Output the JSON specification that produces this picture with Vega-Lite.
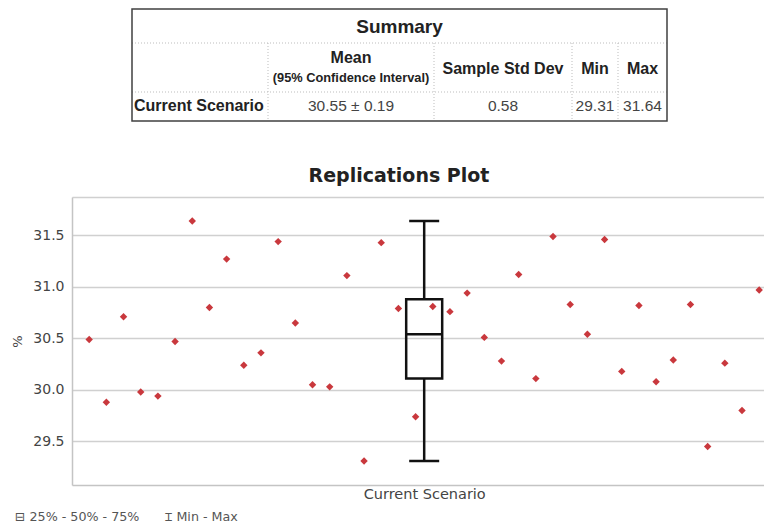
{
  "$schema": "https://vega.github.io/schema/vega-lite/v6.json",
  "background": "white",
  "padding": {"left": 11, "top": 8, "right": 0, "bottom": 0},
  "bounds": "flush",
  "spacing": 76,
  "title": {
    "text": "⊟\u00a025% - 50% - 75%\u2003\u2003⌶\u00a0Min - Max",
    "orient": "bottom",
    "anchor": "start",
    "frame": "bounds",
    "font": "DejaVu Sans, DejaVu Sans Mono",
    "fontSize": 12.7,
    "fontWeight": "normal",
    "color": "#555555",
    "baseline": "alphabetic",
    "offset": 20,
    "dx": 3
  },
  "config": {"view": {"stroke": null}},
  "vconcat": [
    {
      "width": 692,
      "height": 112,
      "encoding": {
        "x": {"field": "x", "type": "quantitative", "scale": {"domain": [-60, 632]}, "axis": null},
        "y": {"field": "y", "type": "quantitative", "scale": {"domain": [0, 112], "reverse": true}, "axis": null}
      },
      "layer": [
        {
          "data": {"values": [{"x": 0, "x2": 535, "y": 34}, {"x": 0, "x2": 535, "y": 83}]},
          "mark": {"type": "rule", "color": "#bdbdbd", "strokeWidth": 1, "strokeDash": [1, 2]},
          "encoding": {"x2": {"field": "x2"}}
        },
        {
          "data": {"values": [{"x": 136, "y": 34, "y2": 112}, {"x": 302, "y": 34, "y2": 112}, {"x": 440, "y": 34, "y2": 112}, {"x": 486, "y": 34, "y2": 112}]},
          "mark": {"type": "rule", "color": "#bdbdbd", "strokeWidth": 1, "strokeDash": [1, 2]},
          "encoding": {"y2": {"field": "y2"}}
        },
        {
          "data": {"values": [{"x": 0, "x2": 535, "y": 0, "y2": 112}]},
          "mark": {"type": "rect", "filled": false, "color": "#404040", "strokeWidth": 1.5},
          "encoding": {"x2": {"field": "x2"}, "y2": {"field": "y2"}}
        },
        {
          "data": {"values": [{"x": 267.5, "y": 17.5, "t": "Summary"}]},
          "mark": {"type": "text", "font": "Liberation Sans", "fontSize": 19, "fontWeight": "bold", "color": "#222222", "align": "center", "baseline": "middle"},
          "encoding": {"text": {"field": "t"}}
        },
        {
          "data": {"values": [{"x": 219, "y": 49, "t": "Mean"}, {"x": 371, "y": 59.5, "t": "Sample Std Dev"}, {"x": 463, "y": 59.5, "t": "Min"}, {"x": 510.5, "y": 59.5, "t": "Max"}]},
          "mark": {"type": "text", "font": "Liberation Sans", "fontSize": 16, "fontWeight": "bold", "color": "#222222", "align": "center", "baseline": "middle"},
          "encoding": {"text": {"field": "t"}}
        },
        {
          "data": {"values": [{"x": 219, "y": 68.5, "t": "(95% Confidence Interval)"}]},
          "mark": {"type": "text", "font": "Liberation Sans", "fontSize": 12.8, "fontWeight": "bold", "color": "#222222", "align": "center", "baseline": "middle"},
          "encoding": {"text": {"field": "t"}}
        },
        {
          "data": {"values": [{"x": 2, "y": 96.5, "t": "Current Scenario"}]},
          "mark": {"type": "text", "font": "Liberation Sans", "fontSize": 16, "fontWeight": "bold", "color": "#222222", "align": "left", "baseline": "middle"},
          "encoding": {"text": {"field": "t"}}
        },
        {
          "data": {"values": [{"x": 219, "y": 96.5, "t": "30.55 ± 0.19"}, {"x": 371, "y": 96.5, "t": "0.58"}, {"x": 463, "y": 96.5, "t": "29.31"}, {"x": 510.5, "y": 96.5, "t": "31.64"}]},
          "mark": {"type": "text", "font": "Liberation Sans", "fontSize": 15.5, "fontWeight": "normal", "color": "#444444", "align": "center", "baseline": "middle"},
          "encoding": {"text": {"field": "t"}}
        }
      ]
    },
    {
      "width": 692,
      "height": 288,
      "title": {
        "text": "Replications Plot",
        "font": "DejaVu Sans",
        "fontSize": 19,
        "fontWeight": "bold",
        "color": "#222222",
        "anchor": "middle",
        "dx": -19,
        "baseline": "alphabetic",
        "offset": -4
      },
      "layer": [
        {
          "data": {"values": [
            {"rep": 1, "value": 30.49}, {"rep": 2, "value": 29.88}, {"rep": 3, "value": 30.71}, {"rep": 4, "value": 29.98},
            {"rep": 5, "value": 29.94}, {"rep": 6, "value": 30.47}, {"rep": 7, "value": 31.64}, {"rep": 8, "value": 30.80},
            {"rep": 9, "value": 31.27}, {"rep": 10, "value": 30.24}, {"rep": 11, "value": 30.36}, {"rep": 12, "value": 31.44},
            {"rep": 13, "value": 30.65}, {"rep": 14, "value": 30.05}, {"rep": 15, "value": 30.03}, {"rep": 16, "value": 31.11},
            {"rep": 17, "value": 29.31}, {"rep": 18, "value": 31.43}, {"rep": 19, "value": 30.79}, {"rep": 20, "value": 29.74},
            {"rep": 21, "value": 30.81}, {"rep": 22, "value": 30.76}, {"rep": 23, "value": 30.94}, {"rep": 24, "value": 30.51},
            {"rep": 25, "value": 30.28}, {"rep": 26, "value": 31.12}, {"rep": 27, "value": 30.11}, {"rep": 28, "value": 31.49},
            {"rep": 29, "value": 30.83}, {"rep": 30, "value": 30.54}, {"rep": 31, "value": 31.46}, {"rep": 32, "value": 30.18},
            {"rep": 33, "value": 30.82}, {"rep": 34, "value": 30.08}, {"rep": 35, "value": 30.29}, {"rep": 36, "value": 30.83},
            {"rep": 37, "value": 29.45}, {"rep": 38, "value": 30.26}, {"rep": 39, "value": 29.80}, {"rep": 40, "value": 30.97}
          ]},
          "mark": {"type": "point", "shape": "diamond", "filled": true, "size": 55, "color": "#c9383d", "opacity": 1},
          "encoding": {
            "x": {
              "field": "rep", "type": "quantitative",
              "scale": {"domain": [0, 40.28], "nice": false, "zero": false, "padding": 0},
              "axis": {
                "title": null, "values": [20.5], "labelExpr": "'Current Scenario'",
                "grid": false, "ticks": false, "tickSize": 0,
                "domain": true, "domainColor": "#c4c4c4", "domainWidth": 1.5,
                "labelFont": "DejaVu Sans", "labelFontSize": 14.5, "labelColor": "#444444",
                "labelPadding": 2, "labelFlush": false
              }
            },
            "y": {
              "field": "value", "type": "quantitative",
              "scale": {"domain": [29.077, 31.873], "nice": false, "zero": false, "padding": 0},
              "axis": {
                "title": "%", "values": [29.5, 30, 30.5, 31, 31.5, 31.873],
                "labelExpr": "datum.value > 31.8 ? '' : format(datum.value, '.1f')",
                "grid": true, "gridColor": "#d0d0d0", "gridWidth": 1.5,
                "ticks": false, "tickSize": 0,
                "domain": true, "domainColor": "#c4c4c4", "domainWidth": 1.5,
                "labelFont": "DejaVu Sans", "labelFontSize": 14, "labelColor": "#444444",
                "labelPadding": 8, "labelFlush": false,
                "titleFont": "DejaVu Sans", "titleFontSize": 13, "titleFontWeight": "normal",
                "titleColor": "#444444", "titlePadding": 8
              }
            }
          }
        },
        {
          "data": {"values": [{"pos": 20.5, "min": 29.31, "q1": 30.11, "median": 30.54, "q3": 30.88, "max": 31.64}]},
          "layer": [
            {
              "mark": {"type": "rule", "color": "#111111", "strokeWidth": 2.5},
              "encoding": {"x": {"field": "pos", "type": "quantitative"}, "y": {"field": "q3", "type": "quantitative"}, "y2": {"field": "max"}}
            },
            {
              "mark": {"type": "rule", "color": "#111111", "strokeWidth": 2.5},
              "encoding": {"x": {"field": "pos", "type": "quantitative"}, "y": {"field": "min", "type": "quantitative"}, "y2": {"field": "q1"}}
            },
            {
              "mark": {"type": "tick", "orient": "horizontal", "size": 30, "thickness": 2.5, "color": "#111111", "opacity": 1},
              "encoding": {"x": {"field": "pos", "type": "quantitative"}, "y": {"field": "max", "type": "quantitative"}}
            },
            {
              "mark": {"type": "tick", "orient": "horizontal", "size": 30, "thickness": 2.5, "color": "#111111", "opacity": 1},
              "encoding": {"x": {"field": "pos", "type": "quantitative"}, "y": {"field": "min", "type": "quantitative"}}
            },
            {
              "mark": {"type": "bar", "orient": "vertical", "width": 36, "filled": false, "color": "#111111", "strokeWidth": 2.5},
              "encoding": {"x": {"field": "pos", "type": "quantitative"}, "y": {"field": "q1", "type": "quantitative"}, "y2": {"field": "q3"}}
            },
            {
              "mark": {"type": "tick", "orient": "horizontal", "size": 36, "thickness": 2.5, "color": "#111111", "opacity": 1},
              "encoding": {"x": {"field": "pos", "type": "quantitative"}, "y": {"field": "median", "type": "quantitative"}}
            }
          ]
        }
      ]
    }
  ]
}
